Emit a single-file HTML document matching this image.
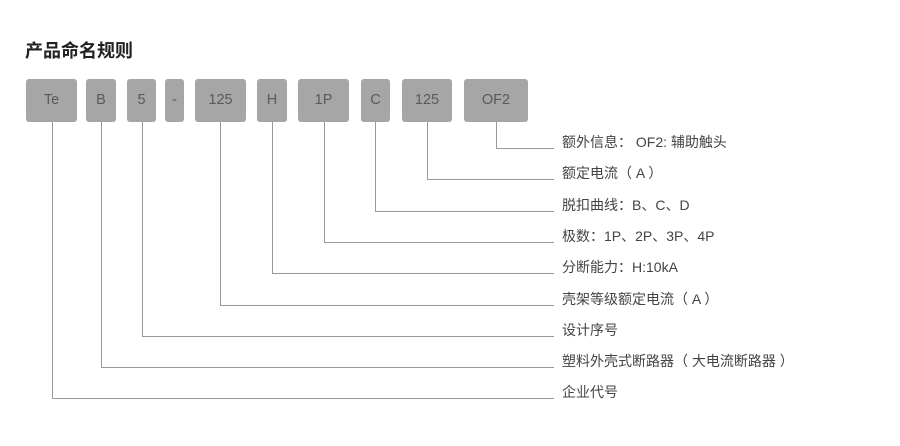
<!DOCTYPE html>
<html><head><meta charset="utf-8"><style>
html,body{margin:0;padding:0;background:#fff;width:900px;height:446px;overflow:hidden;position:relative;font-family:"Liberation Sans","Noto Sans CJK SC",sans-serif}
.t{position:absolute;left:25px;top:37px;font-size:18px;font-weight:bold;color:#222}
.b{position:absolute;top:79px;height:43px;background:#a6a6a6;border-radius:3px;color:#5a5a5a;font-size:14.5px;line-height:43px;text-align:center}
.l{position:absolute;left:562px;font-size:14px;color:#444;white-space:nowrap;line-height:18px}
svg{position:absolute;left:0;top:0}
</style></head><body>
<div class="t">产品命名规则</div>
<div class="b" style="left:26px;width:51px">Te</div>
<div class="b" style="left:86px;width:30px">B</div>
<div class="b" style="left:127px;width:29px">5</div>
<div class="b" style="left:165px;width:19px">-</div>
<div class="b" style="left:195px;width:51px">125</div>
<div class="b" style="left:257px;width:30px">H</div>
<div class="b" style="left:298px;width:51px">1P</div>
<div class="b" style="left:361px;width:29px">C</div>
<div class="b" style="left:402px;width:50px">125</div>
<div class="b" style="left:464px;width:64px">OF2</div>
<svg width="900" height="446" fill="none" stroke="#999" stroke-width="1">
<path d="M496.5 122V148.5H554"/>
<path d="M427.5 122V179.5H554"/>
<path d="M375.5 122V211.5H554"/>
<path d="M324.5 122V242.5H554"/>
<path d="M272.5 122V273.5H554"/>
<path d="M220.5 122V305.5H554"/>
<path d="M142.5 122V336.5H554"/>
<path d="M101.5 122V367.5H554"/>
<path d="M52.5 122V398.5H554"/>
</svg>
<div class="l" style="top:133px">额外信息： OF2: 辅助触头</div>
<div class="l" style="top:164px">额定电流（ A ）</div>
<div class="l" style="top:196px">脱扣曲线：B、C、D</div>
<div class="l" style="top:227px">极数：1P、2P、3P、4P</div>
<div class="l" style="top:258px">分断能力：H:10kA</div>
<div class="l" style="top:290px">壳架等级额定电流（ A ）</div>
<div class="l" style="top:321px">设计序号</div>
<div class="l" style="top:352px">塑料外壳式断路器（ 大电流断路器 ）</div>
<div class="l" style="top:383px">企业代号</div>
</body></html>
